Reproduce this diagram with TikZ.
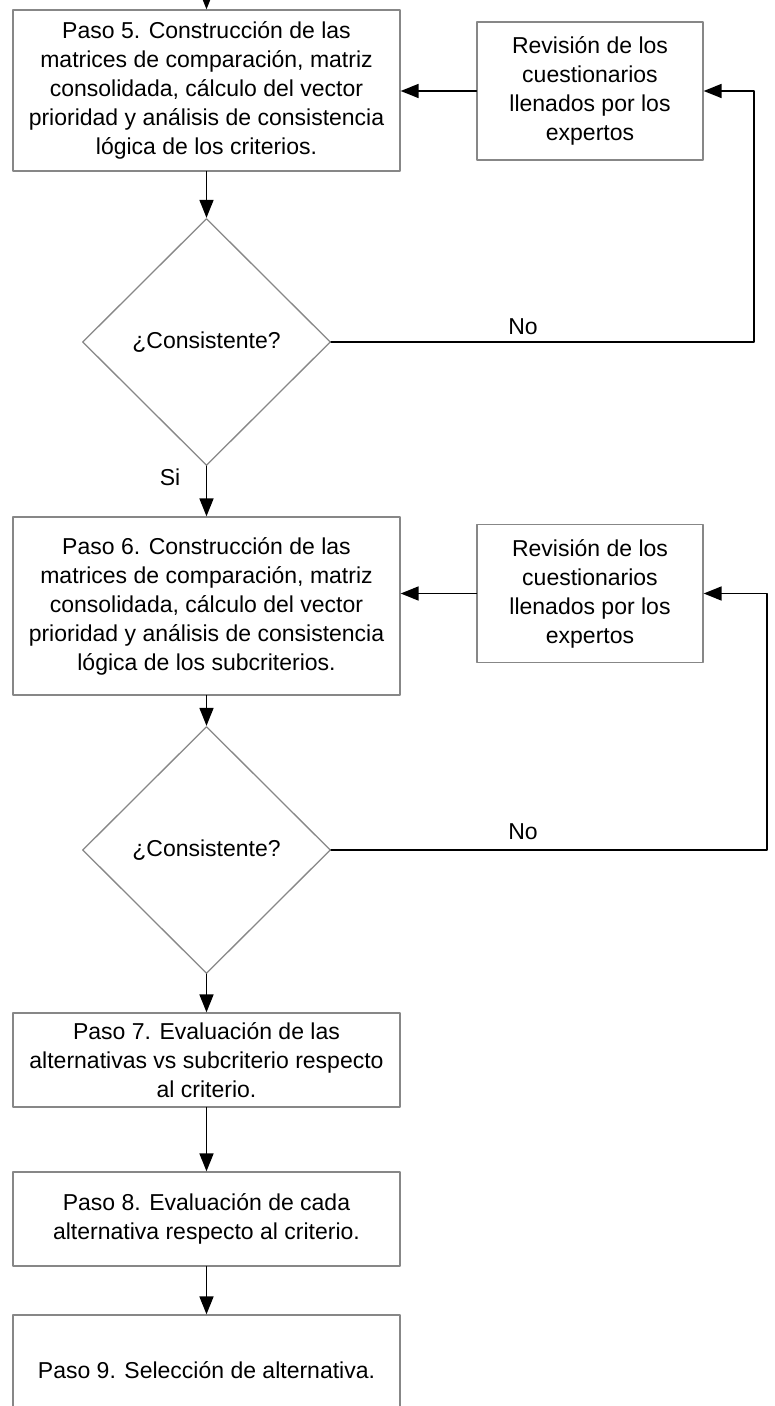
\documentclass[tikz,border=0pt]{standalone}
\usepackage{fontspec}
\setmainfont{Liberation Sans}
\usetikzlibrary{shapes.geometric,arrows.meta}
\definecolor{boxgray}{RGB}{135,135,135}
\tikzset{
  txt/.style={font=\fontsize{11.5}{14.5}\selectfont},
  pasobox/.style={txt,draw=boxgray,line width=0.65pt,minimum width=193.5pt,align=center,inner sep=2pt},
  revbox/.style={pasobox,minimum width=113pt,minimum height=69pt},
  decision/.style={txt,draw=boxgray,line width=0.65pt,diamond,minimum width=124pt,minimum height=123.5pt,inner sep=0pt},
  flow/.style={->,line width=0.85pt}
}

\begin{document}
\begin{tikzpicture}[line cap=round,line join=round,>={Triangle[length=9pt,width=7pt]},x=0.5pt,y=-0.5pt]
\useasboundingbox (0,0) rectangle (775,1406);
\clip (0,0) rectangle (775,1406);
\node[pasobox,minimum height=80.5pt] (p5) at (206.5,90.5) {Paso 5. Construcción de las\\matrices de comparación, matriz\\consolidada, cálculo del vector\\prioridad y análisis de consistencia\\lógica de los criterios.};
\node[revbox] (r5) at (590,91) {Revisión de los\\cuestionarios\\llenados por los\\expertos};
\node[decision] (d5) at (206.5,342) {¿Consistente?};
\node[pasobox,minimum height=89pt] (p6) at (206.5,606) {Paso 6. Construcción de las\\matrices de comparación, matriz\\consolidada, cálculo del vector\\prioridad y análisis de consistencia\\lógica de los subcriterios.};
\node[revbox] (r6) at (590,593.5) {Revisión de los\\cuestionarios\\llenados por los\\expertos};
\node[decision] (d6) at (206.5,850) {¿Consistente?};
\node[pasobox,minimum height=47pt] (p7) at (206.5,1060) {Paso 7. Evaluación de las\\alternativas vs subcriterio respecto\\al criterio.};
\node[pasobox,minimum height=47pt] (p8) at (206.5,1219) {Paso 8. Evaluación de cada\\alternativa respecto al criterio.};
\node[pasobox,minimum height=55pt] (p9) at (206.5,1370) {Paso 9. Selección de alternativa.};
\node[txt] (si) at (170,477) {Si};
\node[txt] (no5) at (523,327) {No};
\node[txt] (no6) at (523,832) {No};
\coordinate (top) at (206.5,-40);
\coordinate (c5) at (754,342);
\coordinate (c6) at (767,850);
\draw[flow] (top) -- (p5.north);
\draw[flow] (p5) -- (d5);
\draw[flow] (d5) -- (p6);
\draw[flow] (p6) -- (d6);
\draw[flow] (d6) -- (p7);
\draw[flow] (p7) -- (p8);
\draw[flow] (p8) -- (p9);
\draw[flow] (r5.west) -- (r5.west -| p5.east);
\draw[flow] (r6.west) -- (r6.west -| p6.east);
\draw[flow] (d5.east) -- (c5) |- (r5.east);
\draw[flow] (d6.east) -- (c6) |- (r6.east);
\end{tikzpicture}
\end{document}
